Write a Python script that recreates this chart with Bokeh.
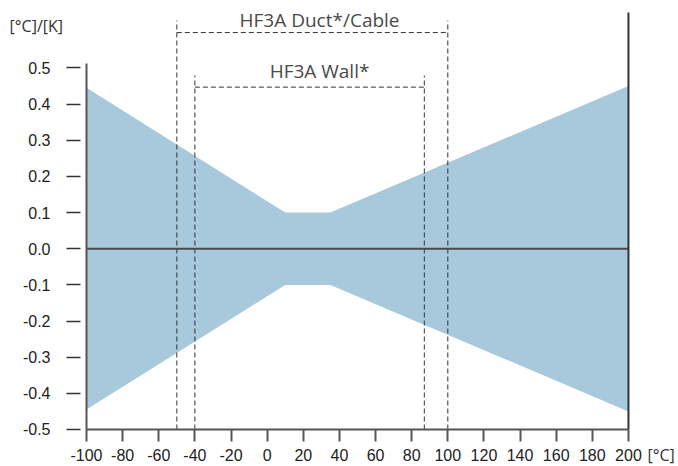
from bokeh.plotting import figure
from bokeh.models import Label, Range1d, FixedTicker, PrintfTickFormatter
from bokeh.embed import file_html
from bokeh.resources import INLINE

# ---- data ----
temp = [-100, 10, 35, 200]
upper = [0.445, 0.1, 0.1, 0.45]
lower = [-0.445, -0.1, -0.1, -0.45]
x_ticks = [-100, -80, -60, -40, -20, 0, 20, 40, 60, 80, 100, 120, 140, 160, 180, 200]
y_ticks = [-0.5, -0.4, -0.3, -0.2, -0.1, 0.0, 0.1, 0.2, 0.3, 0.4, 0.5]
duct_range = [-50, 100]
wall_range = [-40, 87]
duct_label = "HF3A Duct*/Cable"
wall_label = "HF3A Wall*"
y_title = "[°C]/[K]"
x_title = "[°C]"

# ---- layout constants (frame covers whole canvas, axes at fixed locations) ----
X_LO, X_HI = -147.6, 227.7
Y_LO, Y_HI = -0.6024, 0.6867
Y_TOP = 0.6535
DUCT_V_TOP, DUCT_H = 0.631, 0.598
WALL_V_TOP, WALL_H = 0.479, 0.447
LABEL_X = 29

xmin, xmax = x_ticks[0], x_ticks[-1]
ymin, ymax = y_ticks[0], y_ticks[-1]

p = figure(width=678, height=466, output_backend="svg", toolbar_location=None,
           x_range=Range1d(X_LO, X_HI), y_range=Range1d(Y_LO, Y_HI),
           min_border_left=0, min_border_right=0, min_border_top=0, min_border_bottom=0)
p.outline_line_color = None
p.xgrid.visible = False
p.ygrid.visible = False
p.background_fill_color = "white"
p.border_fill_color = "white"

band_color = "#a7c9db"
p.varea(x=temp, y1=lower, y2=upper, fill_color=band_color, fill_alpha=1.0)

dash_kw = dict(line_color="#333333", line_width=1, line_dash="5 3")
# Duct bracket
p.segment(x0=duct_range, y0=[ymin, ymin], x1=duct_range, y1=[DUCT_V_TOP, DUCT_V_TOP], **dash_kw)
p.segment(x0=[duct_range[0]], y0=[DUCT_H], x1=[duct_range[1]], y1=[DUCT_H], **dash_kw)
# Wall bracket
p.segment(x0=wall_range, y0=[ymin, ymin], x1=wall_range, y1=[WALL_V_TOP, WALL_V_TOP], **dash_kw)
p.segment(x0=[wall_range[0]], y0=[WALL_H], x1=[wall_range[1]], y1=[WALL_H], **dash_kw)

# zero line and right line
p.segment(x0=[xmin], y0=[0.0], x1=[xmax], y1=[0.0], line_color="#4a4a4a", line_width=2)
p.segment(x0=[xmax], y0=[ymin], x1=[xmax], y1=[Y_TOP], line_color="#333333", line_width=2)

# axes
xa = p.xaxis[0]
xa.fixed_location = ymin
xa.bounds = (xmin, xmax)
xa.ticker = FixedTicker(ticks=x_ticks)
xa.formatter = PrintfTickFormatter(format="%d")
xa.major_tick_in = 0
xa.major_tick_out = 12
xa.minor_tick_line_color = None
xa.axis_line_color = "#555555"
xa.axis_line_width = 2
xa.major_tick_line_color = "#555555"
xa.major_tick_line_width = 2
xa.major_label_standoff = 8
xa.major_label_text_font = "Liberation Sans"
xa.major_label_text_font_size = "16px"
xa.major_label_text_color = "#222222"

ya = p.yaxis[0]
ya.fixed_location = xmin
ya.ticker = FixedTicker(ticks=y_ticks)
ya.formatter = PrintfTickFormatter(format="%.1f")
ya.bounds = (ymin, 0.513)
ya.major_tick_in = -6
ya.major_tick_out = 20
ya.minor_tick_line_color = None
ya.axis_line_color = "#555555"
ya.axis_line_width = 2
ya.major_tick_line_color = "#333333"
ya.major_tick_line_width = 1.3
ya.major_label_standoff = 16
ya.major_label_text_font = "Liberation Sans"
ya.major_label_text_font_size = "16px"
ya.major_label_text_color = "#222222"

# text labels
p.add_layout(Label(x=LABEL_X, y=DUCT_H, y_offset=13, text=duct_label, text_align="center",
                   text_baseline="alphabetic", text_font="Open Sans", text_font_size="19px",
                   text_color="#4a4a4a"))
p.add_layout(Label(x=LABEL_X, y=WALL_H, y_offset=16, text=wall_label, text_align="center",
                   text_baseline="alphabetic", text_font="Open Sans", text_font_size="19px",
                   text_color="#4a4a4a"))
p.add_layout(Label(x=xmin, y=ymax, x_offset=-77, y_offset=41.5, text=y_title,
                   text_align="left", text_baseline="middle", text_font="Open Sans",
                   text_font_size="16px", text_color="#333333"))
p.add_layout(Label(x=xmax, y=ymin, x_offset=19, y_offset=-26, text=x_title,
                   text_align="left", text_baseline="middle", text_font="Open Sans",
                   text_font_size="16px", text_color="#333333"))

open("out.html", "w").write(file_html(p, INLINE))
